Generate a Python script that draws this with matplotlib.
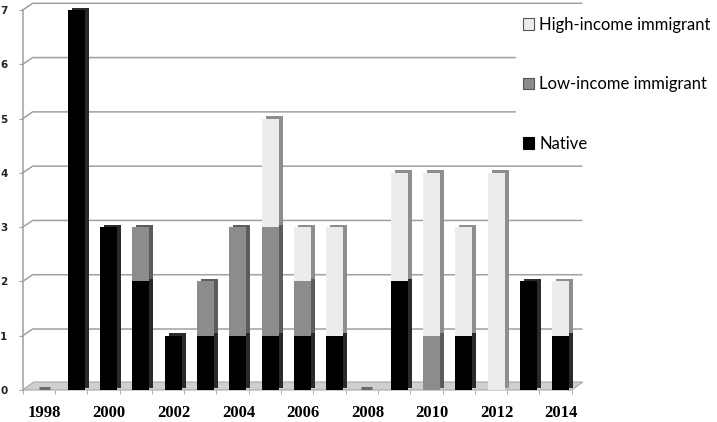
import matplotlib
matplotlib.use("Agg")
import matplotlib.pyplot as plt
from matplotlib.patches import Patch, Polygon
import numpy as np

years = list(range(1998, 2015))
native = [0, 7, 3, 2, 1, 1, 1, 1, 1, 1, 0, 2, 0, 1, 0, 2, 1]
low_income = [0, 0, 0, 1, 0, 1, 2, 2, 1, 0, 0, 0, 1, 0, 0, 0, 0]
high_income = [0, 0, 0, 0, 0, 0, 0, 2, 1, 2, 0, 2, 3, 2, 4, 0, 1]
tick_years = [1998, 2000, 2002, 2004, 2006, 2008, 2010, 2012, 2014]

series = [
    ("Native", native, "#000000", "#2a2a2a"),
    ("Low-income immigrant", low_income, "#8c8c8c", "#5c5c5c"),
    ("High-income immigrant", high_income, "#ececec", "#8e8e8e"),
]

fig = plt.figure(figsize=(7.17, 4.22), dpi=100)
ax = fig.add_axes([22.7 / 717, 32 / 422, 549 / 717, 380 / 422])
ax.set_xlim(1997.5, 2014.5)
ax.set_ylim(0, 7)

# pixel -> data helpers (axes geometry is fixed)
px_x = 17 / 549
px_y = 7 / 380

# back wall gridlines with a small perspective shift
gdx, gdy = 10 * px_x, 6.7 * px_y
for y in range(1, 8):
    ax.plot([1997.5, 1997.5 + gdx, 2014.5 + gdx], [y, y + gdy, y + gdy],
            color="#a0a0a0", lw=1.1, clip_on=False, zorder=1)

# floor
fdx, fdy = 11 * px_x, 8 * px_y
floor = Polygon([(1997.5, 0), (2014.5, 0), (2014.5 + fdx, fdy), (1997.5 + fdx, fdy)],
                closed=True, facecolor="#cfcfcf", edgecolor="#a8a8a8", lw=0.8,
                clip_on=False, zorder=2)
ax.add_patch(floor)

x = np.array(years) + 0.16
w = 0.53
ddx, ddy = 4 * px_x, 2.5 * px_y

# side / top faces first, then the front faces
bottom = np.zeros(len(years))
for name, vals, face, side in series:
    v = np.array(vals, dtype=float)
    mask = v > 0
    ax.bar(x[mask] + ddx, v[mask], w, bottom=bottom[mask] + ddy, color=side,
           linewidth=0, zorder=3, clip_on=False)
    bottom += v

bottom = np.zeros(len(years))
for name, vals, face, side in series:
    v = np.array(vals, dtype=float)
    mask = v > 0
    ax.bar(x[mask], v[mask], w, bottom=bottom[mask], color=face,
           linewidth=0, zorder=4, clip_on=False)
    bottom += v

# flat marks for empty years
for xi, tot in zip(x, bottom):
    if tot == 0:
        ax.plot([xi - 0.17, xi + 0.17], [0.04, 0.04], color="#6a6a6a", lw=2.2,
                solid_capstyle="butt", zorder=3)

for s in ["top", "right", "bottom"]:
    ax.spines[s].set_visible(False)
ax.spines["left"].set_color("#a0a0a0")
ax.spines["left"].set_linewidth(1.1)

ax.set_yticks(range(0, 8))
ax.tick_params(axis="y", length=3, color="#a0a0a0", pad=8, labelsize=7.5,
               labelcolor="#222222")
for t in ax.get_yticklabels():
    t.set_fontweight("bold")

ax.set_xticks([yy + 0.18 for yy in tick_years])
ax.set_xticklabels([str(yy) for yy in tick_years], fontfamily="Liberation Serif",
                   fontweight="bold", fontsize=12)
ax.tick_params(axis="x", which="major", length=0, pad=10.5)
ax.set_xticks([yy - 0.5 for yy in years] + [2014.5], minor=True)
ax.tick_params(axis="x", which="minor", length=3, color="#a0a0a0")

handles = [
    Patch(facecolor="#ececec", edgecolor="#555555", lw=0.8, label="High-income immigrant"),
    Patch(facecolor="#8c8c8c", edgecolor="#555555", lw=0.8, label="Low-income immigrant"),
    Patch(facecolor="#000000", edgecolor="#000000", lw=0.8, label="Native"),
]
leg = fig.legend(handles=handles, loc="upper left", bbox_to_anchor=(516 / 717, 1 - 10 / 422),
                 frameon=True, fancybox=False, edgecolor="white", facecolor="white",
                 framealpha=1, prop={"family": "Lato", "size": 12},
                 handlelength=0.7, handleheight=0.7, handletextpad=0.3,
                 labelspacing=2.62, borderpad=0.4, borderaxespad=0)
leg.set_zorder(10)

fig.savefig("out.png", dpi=100)
